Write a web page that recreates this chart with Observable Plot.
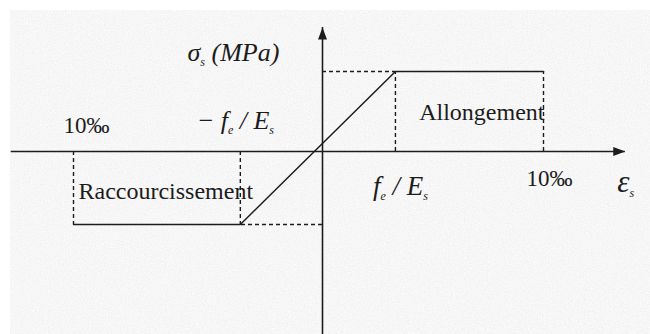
<!DOCTYPE html>
<html>
<head>
<meta charset="utf-8">
<script src="https://cdn.jsdelivr.net/npm/d3@7"></script>
<script src="https://cdn.jsdelivr.net/npm/@observablehq/plot@0.6"></script>
<style>
  body { margin: 0; background: #fff; }
  #chart { width: 650px; height: 334px; }
  #chart svg text { font-family: "Liberation Serif", "Times New Roman", serif; }
</style>
</head>
<body>
<div id="chart"></div>
<script>
// Idealised (elastic / perfectly plastic) stress–strain law for reinforcing steel.
// Strain in ‰, stress in MPa.
const strainLimit = 10;          // ‰, limit strain in tension and compression
const yieldStrain = 3.3;         // fe / Es, ‰
const yieldStress = 435;         // fe, MPa

// Vertices of the diagram (compression branch, elastic line, tension branch)
const curveStrain = [-strainLimit, -yieldStrain, yieldStrain, strainLimit];
const curveStress = [-yieldStress, -yieldStress, yieldStress, yieldStress];

// Dashed guides: verticals down/up to the plateau, horizontals back to the axis
const guideStrain = [-strainLimit, -yieldStrain, yieldStrain, strainLimit];
const guideStress = [-yieldStress, -yieldStress, yieldStress, yieldStress];
const levelStrain = [-yieldStrain, yieldStrain];
const levelStress = [-yieldStress, yieldStress];

// Extent of the two axes
const strainAxis = [-12.5, 13.7];
const stressAxis = [-1090, 674];

const serif = "Liberation Serif, Times New Roman, serif";
const ink = "#1c1c1c";

// Filled, slender arrowhead with its tip at the origin, pointing up
const arrowHead = {
  draw(context) {
    context.moveTo(0, 0);
    context.lineTo(4.5, 12);
    context.lineTo(-4.5, 12);
    context.closePath();
  }
};

const guides = guideStrain.map((x, i) => ({x, y: guideStress[i]}));
const levels = levelStrain.map((x, i) => ({x, y: levelStress[i]}));
const curve = curveStrain.map((x, i) => ({x, y: curveStress[i]}));

const label = (opts) => ({fill: ink, fontFamily: serif, ...opts});

const chart = Plot.plot({
  width: 650,
  height: 334,
  margin: 0,
  x: {type: "linear", domain: [-strainLimit, 0, strainLimit], range: [73, 322, 543], axis: null},
  y: {type: "linear", domain: [-yieldStress, 0, yieldStress], range: [224, 151, 71], axis: null},
  style: {background: "transparent", fontFamily: serif, color: ink},
  marks: [
    // axes
    Plot.ruleY([0], {x1: strainAxis[0], x2: strainAxis[1], stroke: ink, strokeWidth: 1.6}),
    Plot.ruleX([0], {y1: stressAxis[0], y2: stressAxis[1], stroke: ink, strokeWidth: 1.6}),
    Plot.dot([0], {x: 0, y: stressAxis[1], symbol: arrowHead, fill: ink, stroke: "none"}),
    Plot.dot([0], {x: strainAxis[1], y: 0, symbol: arrowHead, rotate: 90, fill: ink, stroke: "none"}),

    // dashed construction lines
    Plot.ruleX(guides, {x: "x", y1: 0, y2: "y", stroke: ink, strokeWidth: 1.4, strokeDasharray: "4,3"}),
    Plot.ruleY(levels, {y: "y", x1: 0, x2: "x", stroke: ink, strokeWidth: 1.4, strokeDasharray: "4,3"}),

    // the stress–strain law
    Plot.line(curve, {x: "x", y: "y", stroke: ink, strokeWidth: 1.5}),

    // labels
    Plot.text(["σ_s (MPa)"], label({x: 0, y: yieldStress, dx: -135, dy: -19, textAnchor: "start",
      fontSize: 26, fontStyle: "italic"})),
    Plot.text(["− f_e / E_s"], label({x: -yieldStrain, y: 0, dx: -5, dy: -31, textAnchor: "middle",
      fontSize: 26, fontStyle: "italic"})),
    Plot.text(["f_e / E_s"], label({x: yieldStrain, y: 0, dx: 5, dy: 35, textAnchor: "middle",
      fontSize: 27, fontStyle: "italic"})),
    Plot.text(["10‰"], label({x: -strainLimit, y: 0, dx: -10, dy: -26, textAnchor: "start",
      fontSize: 23})),
    Plot.text(["10‰"], label({x: strainLimit, y: 0, dx: 6, dy: 27, textAnchor: "middle",
      fontSize: 23})),
    Plot.text(["ε_s"], label({x: strainAxis[1], y: 0, dx: -8, dy: 31, textAnchor: "start",
      fontSize: 31, fontStyle: "italic"})),
    Plot.text(["Raccourcissement"], label({x: -strainLimit, y: -yieldStress / 2, dx: 5, dy: 3,
      textAnchor: "start", fontSize: 24})),
    Plot.text(["Allongement"], label({x: strainLimit, y: yieldStress / 2, dx: 1, dy: 1,
      textAnchor: "end", fontSize: 24}))
  ]
});

// Turn "_x" into a lowered, smaller subscript
const svgNS = "http://www.w3.org/2000/svg";
d3.select(chart).selectAll("text").each(function () {
  const s = this.textContent;
  if (!s.includes("_")) return;
  const size = parseFloat(this.getAttribute("font-size") || getComputedStyle(this).fontSize) || 20;
  const shift = Math.round(size * 0.25);
  this.textContent = "";
  for (const part of s.split(/(_.)/)) {
    if (!part) continue;
    const t = document.createElementNS(svgNS, "tspan");
    if (part[0] === "_") {
      t.textContent = part[1];
      t.setAttribute("font-size", Math.round(size * 0.62));
      t.setAttribute("dy", shift);
    } else {
      t.textContent = part;
      if (this.childNodes.length) t.setAttribute("dy", -shift);
    }
    this.appendChild(t);
  }
});

// Grey, slightly grainy paper behind the drawing
const defs = document.createElementNS(svgNS, "defs");
defs.innerHTML = `
  <filter id="paper-grain" x="0" y="0" width="1" height="1">
    <feTurbulence type="fractalNoise" baseFrequency="0.7" numOctaves="2" seed="7"/>
    <feColorMatrix type="matrix" values="0.33 0.33 0.33 0 0  0.33 0.33 0.33 0 0  0.33 0.33 0.33 0 0  0 0 0 0 1"/>
    <feComponentTransfer>
      <feFuncR type="linear" slope="0.3" intercept="0.78"/>
      <feFuncG type="linear" slope="0.3" intercept="0.78"/>
      <feFuncB type="linear" slope="0.3" intercept="0.78"/>
    </feComponentTransfer>
  </filter>`;
const paper = document.createElementNS(svgNS, "rect");
paper.setAttribute("x", 10);
paper.setAttribute("y", 10);
paper.setAttribute("width", 640);
paper.setAttribute("height", 324);
paper.setAttribute("filter", "url(#paper-grain)");
chart.insertBefore(paper, chart.firstChild);
chart.insertBefore(defs, chart.firstChild);

document.getElementById("chart").appendChild(chart);
</script>
</body>
</html>
